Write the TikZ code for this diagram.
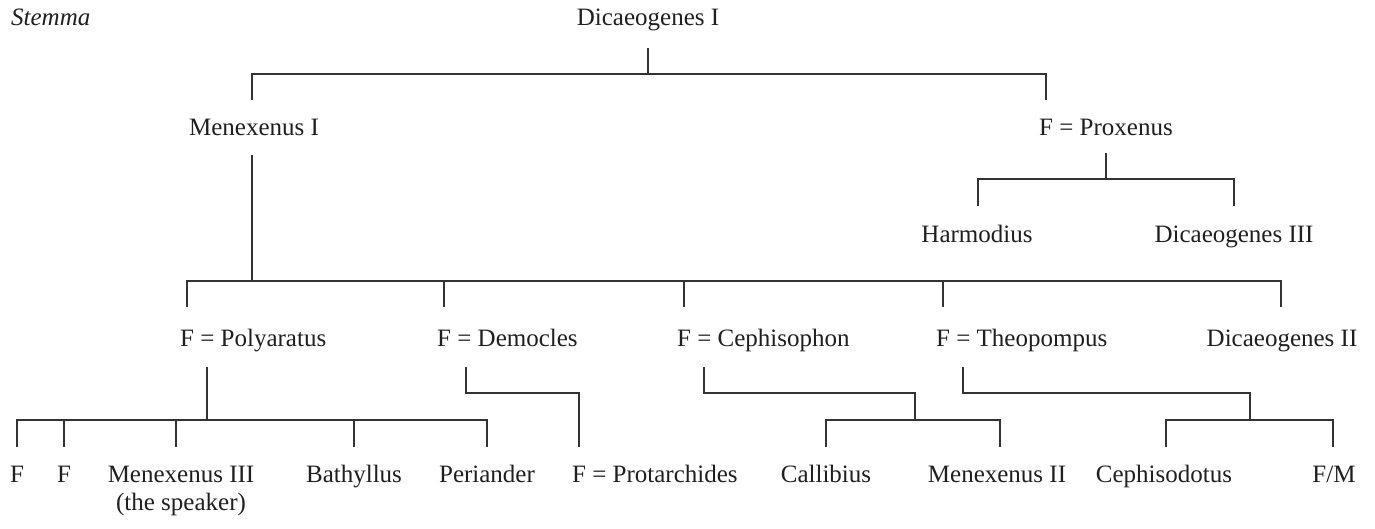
\documentclass[tikz,border=0pt]{standalone}
\usepackage{fontspec}
\setmainfont{Liberation Serif}
\begin{document}
\begin{tikzpicture}[x=1pt,y=-1pt,
  person/.style={anchor=base, inner sep=0pt, font=\fontsize{25}{30}\selectfont, text=black!88},
  wife/.style={person, anchor=base west},
  tie/.style={draw=black!80, line width=1.3pt, line join=miter},
]
\useasboundingbox (0,0) rectangle (1375,528);

% heading
\node[person, anchor=base west, font=\fontsize{25}{30}\selectfont\itshape] (title) at (11,25) {Stemma};

% generation 1
\node[person] (dic1) at (648,25) {Dicaeogenes I};

% generation 2
\node[person] (men1) at (254,135) {Menexenus I};
\node[wife]   (prox) at (1039,135) {F = Proxenus};

% generation 3 (Proxenus branch)
\node[person] (harm) at (977,242) {Harmodius};
\node[person] (dic3) at (1234,242) {Dicaeogenes III};

% generation 3 (Menexenus branch)
\node[wife]   (poly) at (180,346) {F = Polyaratus};
\node[wife]   (demo) at (437,346) {F = Democles};
\node[wife]   (ceph) at (677,346) {F = Cephisophon};
\node[wife]   (theo) at (936,346) {F = Theopompus};
\node[person] (dic2) at (1282,346) {Dicaeogenes II};

% generation 4
\node[person] (fa)   at (17,482)  {F};
\node[person] (fb)   at (64,482)  {F};
\node[person] (men3) at (181,482) {Menexenus III};
\node[person] (spk)  at (181,510) {(the speaker)};
\node[person] (bath) at (354,482) {Bathyllus};
\node[person] (peri) at (487,482) {Periander};
\node[wife]   (prot) at (572,482) {F = Protarchides};
\node[person] (call) at (826,482) {Callibius};
\node[person] (men2) at (997,482) {Menexenus II};
\node[person] (cdot) at (1164,482) {Cephisodotus};
\node[person] (fm)   at (1334,482) {F/M};

% line ends
\coordinate (dic1-dn) at (648,48);
\coordinate (bar1)    at (648,74);
\coordinate (men1-up) at (252,100);
\coordinate (prox-up) at (1046,100);

\coordinate (prox-dn) at (1106,153);
\coordinate (bar2)    at (1106,179);
\coordinate (harm-up) at (978,206);
\coordinate (dic3-up) at (1234,206);

\coordinate (men1-dn) at (252,155);
\coordinate (bar3)    at (252,281);
\coordinate (poly-up) at (187,307);
\coordinate (demo-up) at (444,307);
\coordinate (ceph-up) at (684,307);
\coordinate (theo-up) at (943,307);
\coordinate (dic2-up) at (1281,307);

\coordinate (poly-dn) at (207,367);
\coordinate (bar4)    at (207,420);
\coordinate (fa-up)   at (17,447);
\coordinate (fb-up)   at (64,447);
\coordinate (men3-up) at (176,447);
\coordinate (bath-up) at (354,447);
\coordinate (peri-up) at (487,447);

\coordinate (demo-dn) at (466,367);
\coordinate (jog1)    at (466,393);
\coordinate (prot-up) at (579,447);

\coordinate (ceph-dn) at (704,367);
\coordinate (jog2)    at (704,393);
\coordinate (bar5)    at (915,420);
\coordinate (call-up) at (826,447);
\coordinate (men2-up) at (1000,447);

\coordinate (theo-dn) at (963,367);
\coordinate (jog3)    at (963,393);
\coordinate (bar6)    at (1250,420);
\coordinate (cdot-up) at (1166,447);
\coordinate (fm-up)   at (1333,447);

% Dicaeogenes I -> children
\draw[tie] (dic1-dn) -- (bar1);
\draw[tie] (men1-up) -- (men1-up |- bar1) -- (prox-up |- bar1) -- (prox-up);

% Proxenus -> children
\draw[tie] (prox-dn) -- (bar2);
\draw[tie] (harm-up) -- (harm-up |- bar2) -- (dic3-up |- bar2) -- (dic3-up);

% Menexenus I -> children
\draw[tie] (men1-dn) -- (bar3);
\draw[tie] (poly-up) -- (poly-up |- bar3) -- (dic2-up |- bar3) -- (dic2-up);
\foreach \c in {demo-up, ceph-up, theo-up}
  \draw[tie] (\c) -- (\c |- bar3);

% Polyaratus -> children
\draw[tie] (poly-dn) -- (bar4);
\draw[tie] (fa-up) -- (fa-up |- bar4) -- (peri-up |- bar4) -- (peri-up);
\foreach \c in {fb-up, men3-up, bath-up}
  \draw[tie] (\c) -- (\c |- bar4);

% Democles -> daughter
\draw[tie] (demo-dn) -- (jog1) -- (jog1 -| prot-up) -- (prot-up);

% Cephisophon -> children
\draw[tie] (ceph-dn) -- (jog2) -- (jog2 -| bar5) -- (bar5);
\draw[tie] (call-up) -- (call-up |- bar5) -- (men2-up |- bar5) -- (men2-up);

% Theopompus -> children
\draw[tie] (theo-dn) -- (jog3) -- (jog3 -| bar6) -- (bar6);
\draw[tie] (cdot-up) -- (cdot-up |- bar6) -- (fm-up |- bar6) -- (fm-up);
\end{tikzpicture}
\end{document}
